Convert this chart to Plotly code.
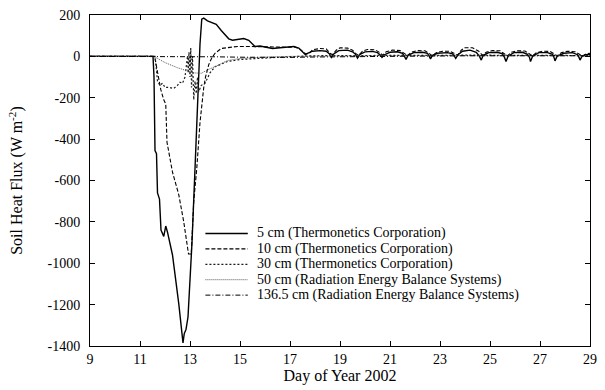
import plotly.graph_objects as go

# ---- data ----
day_5cm = [9, 11.0, 11.52, 11.56, 11.6, 11.66, 11.7, 11.78, 11.84, 11.95, 12.03, 12.1, 12.3, 12.55,
           12.68, 12.72, 12.77, 12.84, 12.92, 13.08, 13.2, 13.27, 13.32, 13.4, 13.47, 13.55, 13.7,
           13.9, 14.05, 14.25, 14.4, 14.55, 14.7, 14.9, 15.15, 15.35, 15.5, 15.6, 15.8, 16.0, 16.3,
           16.6, 16.9, 17.15, 17.35, 17.5, 17.62,
           17.7, 17.9, 18.2, 18.45, 18.58, 18.66, 18.75, 18.95, 19.3, 19.5, 19.62, 19.7, 19.8, 20.0,
           20.3, 20.5, 20.62, 20.68, 20.78, 21.0, 21.3, 21.5, 21.58, 21.64, 21.72, 21.95, 22.3, 22.5,
           22.57, 22.62, 22.7, 22.9, 23.3, 23.5, 23.58, 23.63, 23.72, 23.9, 24.2, 24.45, 24.58, 24.65,
           24.73, 24.95, 25.3, 25.5, 25.58, 25.64, 25.72, 25.95, 26.3, 26.5, 26.58, 26.62, 26.7, 26.95,
           27.3, 27.5, 27.56, 27.6, 27.68, 27.95, 28.3, 28.5, 28.56, 28.6, 28.68, 28.85, 29]
flux_5cm = [0, 1, 0, -100, -455, -470, -660, -690, -840, -870, -820, -850, -960, -1195,
            -1320, -1385, -1340, -1320, -1260, -900, -543, -300, -150, 60, 180, 185, 172,
            162, 155, 125, 105, 85, 78, 82, 86, 78, 60, 48, 50, 45, 38,
            42, 46, 48, 40, 20, 8,
            15, 25, 28, 25, 12, -5, 12, 28, 30, 22, 10, -8, 10, 22,
            24, 18, 5, -5, 8, 20, 22, 15, 0, -15, 5, 18, 20, 15,
            0, -12, 5, 15, 18, 12, 0, -10, 8, 25, 30, 20, 0, -18,
            5, 18, 20, 12, -5, -25, 0, 18, 20, 10, -5, -25, 0, 18,
            18, 10, -5, -22, 0, 15, 18, 8, -5, -18, 0, 8, 10]

day_10cm = [9, 11.55, 11.6, 11.7, 11.83, 11.95, 12.03, 12.08, 12.16, 12.3, 12.55, 12.75, 12.94, 13.05,
            13.15, 13.27, 13.4, 13.47, 13.55, 13.62, 13.75, 13.86, 14.0, 14.25, 14.6, 14.9, 15.3,
            15.6, 16.0, 16.5, 16.9, 17.2, 17.4, 17.6, 17.75,
            17.9, 18.2, 18.45, 18.6, 18.7, 18.85, 19.0, 19.3, 19.5, 19.65, 19.75, 19.9, 20.1, 20.4,
            20.6, 20.7, 20.85, 21.1, 21.4, 21.6, 21.7, 21.85, 22.1, 22.4, 22.6, 22.7, 22.85, 23.1,
            23.4, 23.6, 23.7, 23.85, 24.0, 24.3, 24.55, 24.7, 24.85, 25.1, 25.4, 25.6, 25.7, 25.85,
            26.1, 26.4, 26.6, 26.7, 26.85, 27.1, 27.4, 27.6, 27.7, 27.85, 28.1, 28.4, 28.6, 28.7,
            28.85, 29]
flux_10cm = [0, 0, -10, -80, -160, -210, -230, -415, -463, -560, -668, -800, -955, -955,
             -700, -543, -320, -224, -150, -100, -40, -10, 15, 38, 45, 48, 48,
             48, 46, 45, 44, 45, 35, 15, 12,
             32, 38, 36, 15, 8, 30, 42, 40, 30, 12, 5, 25, 33, 32,
             18, 6, 22, 30, 28, 12, 3, 20, 28, 27, 12, 3, 18, 25,
             25, 12, 5, 30, 42, 42, 25, 5, 20, 28, 27, 10, 2, 20,
             27, 26, 10, 2, 18, 25, 24, 8, 2, 18, 25, 22, 8, 2,
             12, 15]

day_30cm = [9, 11.6, 11.62, 11.7, 11.8, 11.9, 12.0, 12.15, 12.35, 12.5, 12.6, 12.7, 12.8, 12.85,
            12.9, 12.93, 12.96, 13.0, 13.03, 13.06, 13.1, 13.15, 13.2, 13.25, 13.3, 13.35, 13.45,
            13.6, 13.8, 14.0, 14.5, 15.0, 15.6, 16.9, 18.0, 19.0, 20.0, 21.0, 22.0, 23.0, 24.0,
            25.0, 26.0, 27.0, 28.0, 29]
flux_30cm = [0, 0, -20, -120, -140, -130, -150, -150, -155, -140, -125, -130, -100, -60,
             0, -80, 20, -100, 40, -150, 0, -210, -120, -180, -100, -170, -140,
             -130, -80, -50, -25, -15, -10, -2, 3, 5, 4, 5, 4, 5, 6,
             5, 4, 5, 4, 4]

day_50cm = [9, 11.55, 12.0, 12.5, 12.94, 13.2, 13.45, 13.7, 14.0, 14.5, 15.0, 16.0, 17.0, 18.0,
            20.0, 22.0, 24.0, 26.0, 28.0, 29]
flux_50cm = [0, 0, -30, -55, -72, -80, -82, -65, -50, -20, -10, -3, 0, 2,
             3, 3, 4, 3, 3, 3]

day_136cm = [9, 11.5, 12.5, 13.0, 14.0, 15.0, 16.0, 17.0, 18.0, 20.0, 22.0, 24.0, 26.0, 28.0, 29]
flux_136cm = [0, 0, 0, -1, -2, -4, -5, -5, -3, 0, 2, 3, 3, 3, 3]

series_names = ["5 cm (Thermonetics Corporation)",
                "10 cm (Thermonetics Corporation)",
                "30 cm (Thermonetics Corporation)",
                "50 cm (Radiation Energy Balance Systems)",
                "136.5 cm (Radiation Energy Balance Systems)"]
series_x = [day_5cm, day_10cm, day_30cm, day_50cm, day_136cm]
series_y = [flux_5cm, flux_10cm, flux_30cm, flux_50cm, flux_136cm]

x_ticks = [9, 11, 13, 15, 17, 19, 21, 23, 25, 27, 29]
y_ticks = [200, 0, -200, -400, -600, -800, -1000, -1200, -1400]

# ---- styles ----
styles = [("solid", "#000000", 1.4),
          ("4px,2px", "#000000", 1.1),
          ("2px,2px", "#1a1a1a", 1.2),
          ("1px,1px", "#555555", 1.0),
          ("5px,2px,1px,2px", "#000000", 1.0)]

fig = go.Figure()
for name, xs, ys, (dash, color, w) in zip(series_names, series_x, series_y, styles):
    fig.add_trace(go.Scatter(x=xs, y=ys, mode="lines", name=name, showlegend=False,
                             line=dict(color=color, width=w, dash=dash)))

serif = "Liberation Serif, Times New Roman, serif"

# ---- compact key (legend) drawn in paper coordinates ----
key_rows_y = [0.3400, 0.2934, 0.2469, 0.2003, 0.1537]
key_line_x0, key_line_x1, key_text_x = 0.2308, 0.3156, 0.3314
shapes = []
annotations = []
for name, ky, (dash, color, w) in zip(series_names, key_rows_y, styles):
    shapes.append(dict(type="line", xref="paper", yref="paper",
                       x0=key_line_x0, x1=key_line_x1, y0=ky, y1=ky,
                       line=dict(color=color, width=w, dash=dash)))
    annotations.append(dict(text=name, xref="paper", yref="paper", x=key_text_x, y=ky,
                            xanchor="left", yanchor="middle", showarrow=False,
                            borderpad=0,
                            font=dict(family=serif, size=14, color="black")))

axis_common = dict(showline=True, linecolor="black", linewidth=1, mirror="ticks",
                   ticks="inside", ticklen=5, tickcolor="black", showgrid=False,
                   zeroline=False, tickfont=dict(family=serif, size=14, color="black"))

fig.update_layout(
    width=605, height=390,
    margin=dict(l=90, r=8, t=11, b=44),
    paper_bgcolor="white", plot_bgcolor="white",
    font=dict(family=serif, size=14, color="black"),
    xaxis=dict(range=[9, 29], tickvals=x_ticks, ticktext=[str(v) for v in x_ticks],
               title=dict(text="Day of Year 2002", font=dict(family=serif, size=16), standoff=3),
               **axis_common),
    yaxis=dict(range=[-1400, 200], tickvals=y_ticks, ticktext=[str(v) for v in y_ticks],
               title=dict(text="Soil Heat Flux (W m<sup>-2</sup>)", font=dict(family=serif, size=16),
                          standoff=20),
               ticklabelstandoff=6,
               **axis_common),
    shapes=shapes,
    annotations=annotations,
    showlegend=False,
)

fig.write_html("out.html")
